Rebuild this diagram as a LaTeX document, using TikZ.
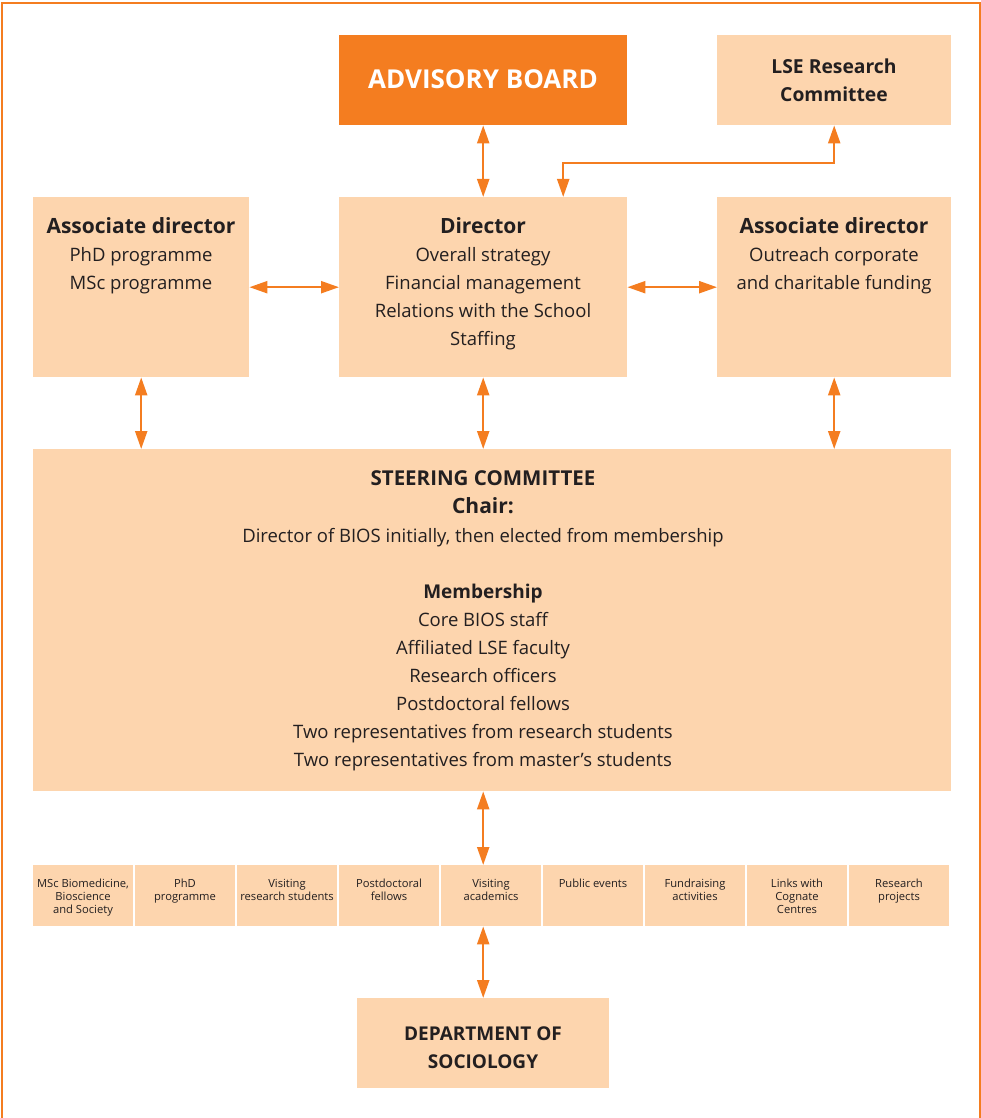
\documentclass[tikz,border=0pt]{standalone}
\usepackage{fontspec}
\setmainfont{Open Sans}
\usetikzlibrary{arrows.meta, positioning, calc}
\definecolor{biosorange}{HTML}{F47D20}
\definecolor{biospeach}{HTML}{FDD5AE}
\definecolor{biosink}{HTML}{231F20}

\begin{document}
\begin{tikzpicture}[x=1pt,y=-1pt,
  link/.style={{Triangle[length=18pt,width=12pt]}-{Triangle[length=18pt,width=12pt]}, draw=biosorange, line width=2.2pt},
  box node/.style={rectangle, fill=biospeach, inner sep=0pt, anchor=north west},
  head node/.style={anchor=base, inner sep=0pt, align=center, text=biosink, font=\fontsize{21}{28}\selectfont\bfseries},
  body node/.style={anchor=base, inner sep=0pt, align=center, text=biosink, font=\fontsize{18.5}{28}\selectfont},
  cell node/.style={box node, minimum width=100pt, minimum height=61pt},
  cell text/.style={anchor=base, inner sep=0pt, align=center, text=biosink, font=\fontsize{11.2}{13.3}\selectfont}]
  \useasboundingbox (0,0) rectangle (981,1118);
  \draw[biosorange, line width=2pt] (2,1118) -- (2,3) -- (980,3) -- (980,1118);

  % top row (multi-line texts sit on the baseline of their last line)
  \node[box node, fill=biosorange, minimum width=288pt, minimum height=90pt] (adv) at (339,35) {};
  \node[anchor=base, inner sep=0pt, text=white, font=\fontsize{26}{28}\selectfont\bfseries] (advtxt) at (483,89) {ADVISORY BOARD};
  \node[box node, minimum width=234pt, minimum height=90pt] (lse) at (717,35) {};
  \node[head node, font=\fontsize{19.3}{28}\selectfont\bfseries] (lsetxt) at (834,102) {LSE Research\\Committee};

  % directors
  \node[box node, minimum width=216pt, minimum height=180pt] (ad1) at (33,197) {};
  \node[head node] (ad1head) at (141,233) {Associate director};
  \node[body node] (ad1txt) at (141,289) {PhD programme\\MSc programme};
  \node[box node, minimum width=288pt, minimum height=180pt] (dir) at (339,197) {};
  \node[head node] (dirhead) at (483,233) {Director};
  \node[body node] (dirtxt) at (483,345) {Overall strategy\\Financial management\\Relations with the School\\Staffing};
  \node[box node, minimum width=234pt, minimum height=180pt] (ad2) at (717,197) {};
  \node[head node] (ad2head) at (834,233) {Associate director};
  \node[body node] (ad2txt) at (834,289) {Outreach corporate\\and charitable funding};

  % steering committee
  \node[box node, minimum width=918pt, minimum height=342pt] (sc) at (33,449) {};
  \node[head node, font=\fontsize{20.5}{28}\selectfont\bfseries] (schead) at (483,485) {STEERING COMMITTEE};
  \node[head node] (scchair) at (483,513) {Chair:};
  \node[body node] (scchairtxt) at (483,542) {Director of BIOS initially, then elected from membership};
  \node[head node, font=\fontsize{19}{28}\selectfont\bfseries] (scmem) at (483,598) {Membership};
  \node[body node] (scmemtxt) at (483,766) {Core BIOS staff\\Affiliated LSE faculty\\Research officers\\Postdoctoral fellows\\Two representatives from research students\\Two representatives from master’s students};

  % activities
  \node[cell node] (row1) at (33,865) {};
  \node[cell text] (row1txt) at (83,913.6) {MSc Biomedicine,\\Bioscience\\and Society};
  \node[cell node] (row2) at (135,865) {};
  \node[cell text] (row2txt) at (185,900.3) {PhD\\programme};
  \node[cell node] (row3) at (237,865) {};
  \node[cell text] (row3txt) at (287,900.3) {Visiting\\research students};
  \node[cell node] (row4) at (339,865) {};
  \node[cell text] (row4txt) at (389,900.3) {Postdoctoral\\fellows};
  \node[cell node] (row5) at (441,865) {};
  \node[cell text] (row5txt) at (491,900.3) {Visiting\\academics};
  \node[cell node] (row6) at (543,865) {};
  \node[cell text] (row6txt) at (593,887) {Public events};
  \node[cell node] (row7) at (645,865) {};
  \node[cell text] (row7txt) at (695,900.3) {Fundraising\\activities};
  \node[cell node] (row8) at (747,865) {};
  \node[cell text] (row8txt) at (797,913.6) {Links with\\Cognate\\Centres};
  \node[cell node] (row9) at (849,865) {};
  \node[cell text] (row9txt) at (899,900.3) {Research\\projects};

  \node[box node, minimum width=252pt, minimum height=90pt] (dept) at (357,998) {};
  \node[head node, font=\fontsize{19}{28}\selectfont\bfseries] (depttxt) at (483,1068) {DEPARTMENT OF\\SOCIOLOGY};

  % connectors
  \coordinate (bend) at ($(dir.north)+(80,-34)$);
  \draw[link] (adv) -- (dir);
  \draw[link] (lse) |- (bend) -- (bend |- dir.north);
  \draw[link] (ad1) -- (dir);
  \draw[link] (dir) -- (ad2);
  \draw[link] (ad1) -- (ad1 |- sc.north);
  \draw[link] (dir) -- (dir |- sc.north);
  \draw[link] (ad2) -- (ad2 |- sc.north);
  \draw[link] (dir |- sc.south) -- (dir |- row5.north);
  \draw[link] (dir |- row5.south) -- (dept);
\end{tikzpicture}
\end{document}
